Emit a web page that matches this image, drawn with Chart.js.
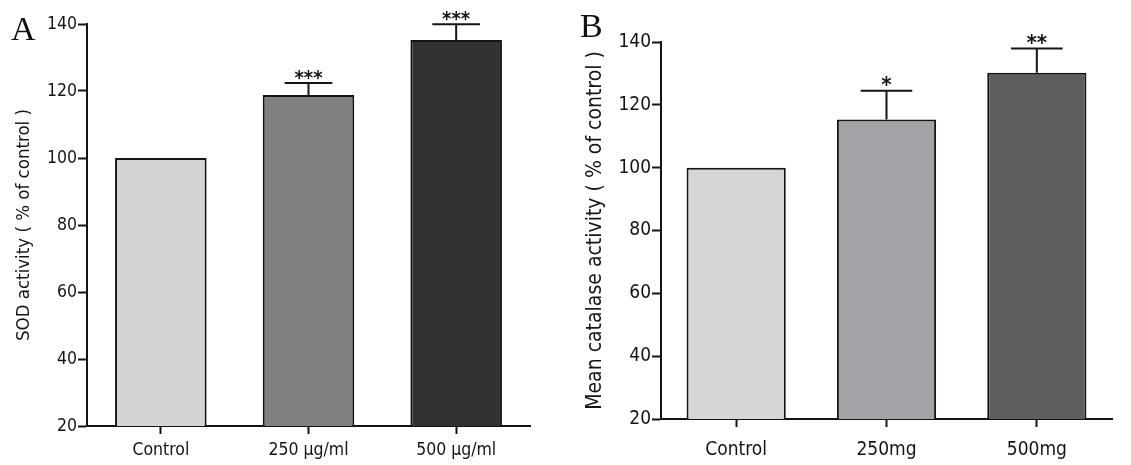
<!DOCTYPE html>
<html>
<head>
<meta charset="utf-8">
<script src="https://cdn.jsdelivr.net/npm/chart.js@4.4.0/dist/chart.umd.min.js"></script>
<style>
  body { margin: 0; background: #fff; width: 1131px; height: 465px; position: relative; overflow: hidden; }
  .panel { position: absolute; top: 0; height: 465px; }
  .letter { position: absolute; font-family: 'Liberation Serif', serif; color: #111; line-height: 1; }
</style>
</head>
<body>
<div class="panel" style="left:0;width:565px"><canvas id="chartA" width="565" height="465"></canvas></div>
<div class="panel" style="left:565px;width:566px"><canvas id="chartB" width="566" height="465"></canvas></div>
<div class="letter" style="left:11px;top:12px;font-size:34px">A</div>
<div class="letter" style="left:580px;top:9px;font-size:34px">B</div>
<script>
// panel A - SOD
const sodLabels = ['Control', '250 μg/ml', '500 μg/ml'];
const sodMean = [100, 118.8, 135.2];
const sodErr = [0, 3.6, 4.7];
const sodSig = ['', '***', '***'];

// panel B - catalase
const catLabels = ['Control', '250mg', '500mg'];
const catMean = [100, 115.3, 130.2];
const catErr = [0, 9.2, 7.7];
const catSig = ['', '*', '**'];

const yMin = 20, yMax = 140, yStep = 20;

const FONT = "'DejaVu Sans Condensed', 'Liberation Sans', sans-serif";
const INK = '#141414';

// draws the upward SEM bar and the star marks above it
const errorBars = {
    id: 'errorBars',
    afterDatasetsDraw(chart, args, opts) {
        const ctx = chart.ctx;
        const y = chart.scales.y;
        const meta = chart.getDatasetMeta(0);
        const ds = chart.data.datasets[0];
        ctx.save();
        ctx.strokeStyle = INK;
        ctx.lineWidth = 2;
        meta.data.forEach((bar, i) => {
            const top = y.getPixelForValue(ds.data[i]);
            const cap = y.getPixelForValue(ds.data[i] + opts.err[i]);
            if (opts.err[i] > 0) {
                const half = bar.width * 0.26;
                ctx.beginPath();
                ctx.moveTo(bar.x, top);
                ctx.lineTo(bar.x, cap);
                ctx.moveTo(bar.x - half, cap);
                ctx.lineTo(bar.x + half, cap);
                ctx.stroke();
            }
            if (opts.sig[i]) {
                ctx.fillStyle = INK;
                ctx.font = 'bold ' + opts.starSize + 'px ' + FONT;
                ctx.textAlign = 'center';
                ctx.textBaseline = 'alphabetic';
                ctx.fillText(opts.sig[i], bar.x, cap + 1);
            }
        });
        ctx.restore();
    }
};

function makePanel(id, p) {
    return new Chart(document.getElementById(id), {
        type: 'bar',
        data: {
            labels: p.labels,
            datasets: [{
                data: p.mean,
                backgroundColor: p.colors,
                borderColor: INK,
                borderWidth: 2,
                barPercentage: p.barPct,
                categoryPercentage: 1
            }]
        },
        options: {
            responsive: false,
            animation: false,
            layout: { padding: p.pad },
            plugins: {
                legend: { display: false },
                tooltip: { enabled: false },
                errorBars: { err: p.err, sig: p.sig, starSize: p.starSize }
            },
            scales: {
                x: {
                    afterFit: s => { s.height = p.xH; },
                    grid: { offset: false, drawOnChartArea: false, drawTicks: true, tickLength: 8, tickWidth: 2, color: INK },
                    border: { display: true, color: INK, width: 2 },
                    ticks: { color: INK, padding: p.xPad, font: { family: FONT, size: p.xFont } }
                },
                y: {
                    min: yMin,
                    max: yMax,
                    afterFit: s => { s.width = p.yW; },
                    grid: { drawOnChartArea: false, drawTicks: true, tickLength: 9, tickWidth: 2, color: INK },
                    border: { display: true, color: INK, width: 2 },
                    ticks: { stepSize: yStep, color: INK, padding: 1, font: { family: FONT, size: p.yFont } },
                    title: {
                        display: true,
                        text: p.title,
                        color: INK,
                        padding: { top: p.titlePad, bottom: 0 },
                        font: { family: FONT, size: p.titleFont }
                    }
                }
            }
        },
        plugins: [errorBars]
    });
}

makePanel('chartA', {
    labels: sodLabels, mean: sodMean, err: sodErr, sig: sodSig,
    colors: ['#d4d4d4', '#808080', '#323232'],
    barPct: 0.62,
    pad: { left: 0, top: 24, right: 35, bottom: 0 },
    xH: 39, yW: 87, xPad: 6,
    xFont: 17.5, yFont: 17.5, titleFont: 18.5, titlePad: 13, starSize: 20,
    title: 'SOD activity ( % of control )'
});

makePanel('chartB', {
    labels: catLabels, mean: catMean, err: catErr, sig: catSig,
    colors: ['#d6d6d6', '#a2a2a7', '#5e5e5e'],
    barPct: 0.66,
    pad: { left: 0, top: 42, right: 19, bottom: 0 },
    xH: 46, yW: 96, xPad: 12,
    xFont: 19, yFont: 19, titleFont: 21, titlePad: 18, starSize: 22,
    title: 'Mean catalase activity ( % of control )'
});
</script>
</body>
</html>
